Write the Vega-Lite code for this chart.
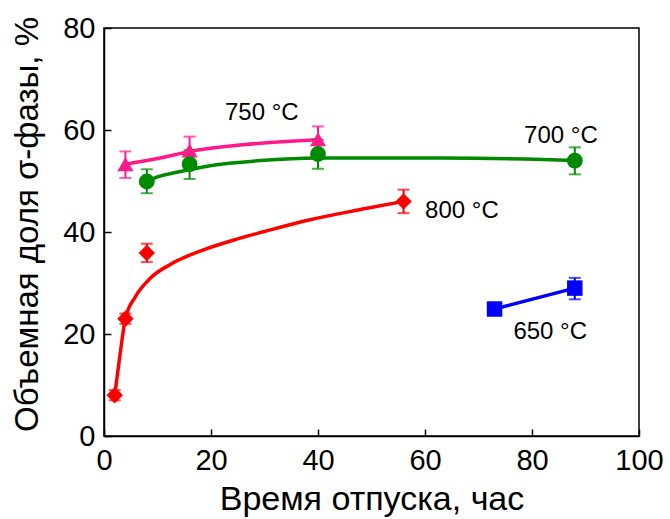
{
  "$schema": "https://vega.github.io/schema/vega-lite/v6.json",
  "width": 535,
  "height": 408,
  "autosize": {"type": "none"},
  "padding": {"left": 104, "top": 28, "right": 31, "bottom": 83},
  "background": "white",
  "config": {
    "font": "Liberation Sans",
    "view": {"stroke": "black", "strokeWidth": 1.5},
    "axis": {
      "grid": false,
      "domainColor": "black",
      "domainWidth": 1.5,
      "tickColor": "black",
      "tickWidth": 1.5,
      "tickSize": -7,
      "labelFlush": false,
      "labelOverlap": false,
      "labelFont": "Liberation Sans",
      "labelFontSize": 29,
      "labelColor": "black",
      "titleFont": "Liberation Sans",
      "titleFontSize": 33,
      "titleFontWeight": "normal",
      "titleColor": "black"
    }
  },
  "datasets": {
    "points": [
      {"series": "800", "x": 2, "y": 8, "lo": 7, "hi": 9},
      {"series": "800", "x": 4, "y": 23, "lo": 22, "hi": 24},
      {"series": "800", "x": 8, "y": 35.9, "lo": 34.1, "hi": 37.7},
      {"series": "800", "x": 56, "y": 46, "lo": 43.7, "hi": 48.3},
      {"series": "750", "x": 4, "y": 53.3, "lo": 50.6, "hi": 55.8},
      {"series": "750", "x": 16, "y": 56, "lo": 53.4, "hi": 58.7},
      {"series": "750", "x": 40, "y": 58.2, "lo": 55.6, "hi": 60.7},
      {"series": "700", "x": 8, "y": 49.9, "lo": 47.6, "hi": 52.3},
      {"series": "700", "x": 16, "y": 53.3, "lo": 50.4, "hi": 56.1},
      {"series": "700", "x": 40, "y": 55.3, "lo": 52.4, "hi": 58.1},
      {"series": "700", "x": 88, "y": 54, "lo": 51.3, "hi": 56.6},
      {"series": "650", "x": 73, "y": 24.9, "lo": 24.1, "hi": 25.7},
      {"series": "650", "x": 88, "y": 29, "lo": 26.8, "hi": 31}
    ],
    "curves": [
      {"series": "800", "o": 1, "x": 2, "y": 8},
      {"series": "800", "o": 2, "x": 3, "y": 16},
      {"series": "800", "o": 3, "x": 4, "y": 23},
      {"series": "800", "o": 4, "x": 5.8, "y": 27.2},
      {"series": "800", "o": 5, "x": 8.6, "y": 30.9},
      {"series": "800", "o": 6, "x": 12.3, "y": 33.6},
      {"series": "800", "o": 7, "x": 18.6, "y": 36.5},
      {"series": "800", "o": 8, "x": 24.8, "y": 38.6},
      {"series": "800", "o": 9, "x": 30, "y": 40.1},
      {"series": "800", "o": 10, "x": 38.5, "y": 42.4},
      {"series": "800", "o": 11, "x": 47.9, "y": 44.4},
      {"series": "800", "o": 12, "x": 56, "y": 46},
      {"series": "750", "o": 1, "x": 4, "y": 53.3},
      {"series": "750", "o": 2, "x": 10.5, "y": 54.5},
      {"series": "750", "o": 3, "x": 16, "y": 55.8},
      {"series": "750", "o": 4, "x": 26, "y": 57.1},
      {"series": "750", "o": 5, "x": 40, "y": 58.1},
      {"series": "700", "o": 1, "x": 8, "y": 49.9},
      {"series": "700", "o": 2, "x": 10, "y": 50.8},
      {"series": "700", "o": 3, "x": 13.6, "y": 51.7},
      {"series": "700", "o": 4, "x": 19.8, "y": 53},
      {"series": "700", "o": 5, "x": 29.2, "y": 54},
      {"series": "700", "o": 6, "x": 40, "y": 54.5},
      {"series": "700", "o": 7, "x": 63, "y": 54.5},
      {"series": "700", "o": 8, "x": 82, "y": 54.2},
      {"series": "700", "o": 9, "x": 88, "y": 54},
      {"series": "650", "o": 1, "x": 73, "y": 24.9},
      {"series": "650", "o": 2, "x": 88, "y": 29}
    ],
    "labels": [
      {"text": "750 °C", "x": 29.5, "y": 62},
      {"text": "700 °C", "x": 85.4, "y": 57.5},
      {"text": "800 °C", "x": 66.9, "y": 42.7},
      {"text": "650 °C", "x": 83.4, "y": 19.1}
    ]
  },
  "layer": [
    {
      "data": {"name": "curves"},
      "mark": {"type": "line", "interpolate": "monotone", "strokeWidth": 3.5},
      "encoding": {
        "x": {"field": "x", "type": "quantitative", "title": "Время отпуска, час",
              "scale": {"domain": [0, 100], "nice": false},
              "axis": {"values": [0, 20, 40, 60, 80, 100], "labelPadding": 17, "titleY": 73, "titleBaseline": "alphabetic", "titleFontSize": 34}},
        "y": {"field": "y", "type": "quantitative", "title": "Объемная доля σ-фазы, %",
              "scale": {"domain": [0, 80], "nice": false},
              "axis": {"values": [0, 20, 40, 60, 80], "labelPadding": 16, "titleX": -67, "titleY": 196, "titleAngle": -90, "titleBaseline": "alphabetic"}},
        "color": {"field": "series", "type": "nominal",
                  "scale": {"domain": ["800", "750", "700", "650"], "range": ["#ff0000", "#ff1a8c", "#008a00", "#0000ff"]},
                  "legend": null},
        "detail": {"field": "series"},
        "order": {"field": "o", "type": "quantitative"}
      }
    },
    {
      "data": {"name": "points"},
      "mark": {"type": "errorbar", "ticks": {"size": 12, "thickness": 2}, "rule": {"strokeWidth": 2}},
      "encoding": {
        "x": {"field": "x", "type": "quantitative", "title": "Время отпуска, час"},
        "y": {"field": "lo", "type": "quantitative", "title": "Объемная доля σ-фазы, %"},
        "y2": {"field": "hi"},
        "color": {"field": "series", "type": "nominal", "legend": null}
      }
    },
    {
      "data": {"name": "points"},
      "mark": {"type": "point", "filled": true, "opacity": 1},
      "encoding": {
        "x": {"field": "x", "type": "quantitative", "title": "Время отпуска, час"},
        "y": {"field": "y", "type": "quantitative", "title": "Объемная доля σ-фазы, %"},
        "color": {"field": "series", "type": "nominal", "legend": null},
        "shape": {"field": "series", "type": "nominal",
                  "scale": {"domain": ["800", "750", "700", "650"], "range": ["diamond", "triangle-up", "circle", "square"]},
                  "legend": null},
        "size": {"field": "series", "type": "nominal",
                 "scale": {"domain": ["800", "750", "700", "650"], "range": [270, 240, 200, 160]},
                 "legend": null}
      }
    },
    {
      "data": {"name": "labels"},
      "mark": {"type": "text", "font": "Liberation Sans", "fontSize": 24, "color": "black", "align": "center", "baseline": "alphabetic"},
      "encoding": {
        "x": {"field": "x", "type": "quantitative", "title": "Время отпуска, час"},
        "y": {"field": "y", "type": "quantitative", "title": "Объемная доля σ-фазы, %"},
        "text": {"field": "text"}
      }
    }
  ]
}
